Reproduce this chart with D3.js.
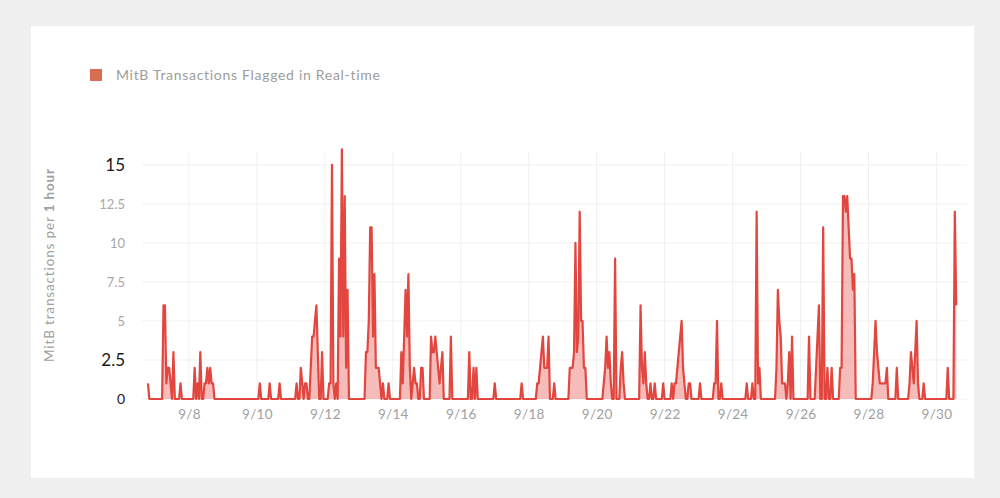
<!DOCTYPE html>
<html><head><meta charset="utf-8">
<script src="https://cdn.jsdelivr.net/npm/d3@7"></script>
<style>
body{margin:0;background:#f0f0f0;}
svg{display:block;font-family:Lato,"Open Sans",sans-serif;}
</style>
</head><body>
<svg id="chart" width="1000" height="498"></svg>
<script>
// ---------- data ----------
const seriesName = "MitB Transactions Flagged in Real-time";
const yTitleParts = ["MitB transactions per ", "1 hour"];
const startTime = "2017-09-06 19:00";   // first hourly sample
const hourCount = 572;                   // hourly samples shown
// hours (offset from startTime) that have non-zero counts, and their counts
const flaggedHours = [
  0,11,12,13,14,15,16,18,23,
  33,35,37,40,41,42,43,44,45,46,
  79,86,93,
  105,108,109,111,112,115,116,117,118,119,120,123,
  128,129,130,131,133,135,136,137,138,139,140,141,
  154,155,156,157,158,159,160,161,162,163,164,166,170,
  179,180,181,182,183,184,185,187,188,189,190,193,194,
  200,201,202,203,204,205,206,207,208,214,
  227,230,232,
  245,264,
  275,276,277,278,279,280,281,282,283,287,
  298,299,300,301,302,303,304,305,306,307,308,309,
  322,323,324,325,326,327,330,334,335,336,
  348,349,350,351,352,355,358,364,370,372,373,374,375,376,377,378,379,382,383,390,
  400,401,402,405,
  423,427,430,431,432,
  444,445,446,447,448,449,450,452,453,455,
  467,472,473,474,477,480,483,
  489,490,491,492,493,494,495,496,497,498,499,
  512,513,514,515,516,517,518,519,520,521,522,529,
  538,539,540,541,542,543,544,548,
  565,570,571
];
const flaggedValues = [
  1,6,6,1,2,2,1,3,1,
  2,1,3,1,1,2,1,2,1,1,
  1,1,1,
  1,2,1,1,1,2,4,4,5,6,3,3,
  1,1,15,1,1,9,4,16,4,13,2,7,
  3,3,5,11,11,4,8,2,2,2,1,1,1,
  3,1,4,7,4,8,2,1,2,1,1,2,2,
  4,3,3,4,3,2,1,2,3,4,
  3,2,2,
  1,1,
  1,1,2,3,4,2,2,2,4,1,
  2,2,2,3,10,3,4,12,5,5,2,2,
  1,2,4,2,3,1,9,2,3,1,
  6,2,1,3,1,1,1,1,1,1,1,2,3,4,5,2,1,1,1,1,
  1,1,5,1,
  1,1,12,1,2,
  2,7,5,4,1,1,1,1,3,4,
  4,2,4,6,11,2,2,
  2,2,13,13,12,13,11,9,9,7,8,
  1,3,5,3,2,1,1,1,1,1,2,2,
  1,3,2,1,3,5,1,1,
  2,12,6
];
const yTicks = [0, 2.5, 5, 7.5, 10, 12.5, 15];
const yTickLabels = ["0", "2.5", "5", "7.5", "10", "12.5", "15"];
const yEmphasized = ["15", "2.5"];
const xTickDates = ["2017-09-08","2017-09-10","2017-09-12","2017-09-14","2017-09-16","2017-09-18",
                    "2017-09-20","2017-09-22","2017-09-24","2017-09-26","2017-09-28","2017-09-30"];
const xTickLabels = ["9/8","9/10","9/12","9/14","9/16","9/18","9/20","9/22","9/24","9/26","9/28","9/30"];

// ---------- build series ----------
const parseTime = d3.timeParse("%Y-%m-%d %H:%M");
const parseDay = d3.timeParse("%Y-%m-%d");
const t0 = parseTime(startTime);
const valueByHour = new Map(flaggedHours.map((h, i) => [h, flaggedValues[i]]));
const series = d3.range(hourCount).map(h => ({
  date: d3.timeHour.offset(t0, h),
  value: valueByHour.has(h) ? valueByHour.get(h) : 0
}));
const xDates = xTickDates.map(parseDay);

// ---------- layout ----------
const svg = d3.select("#chart");
const plot = {left: 142, right: 967, top: 149.3, bottom: 399};

svg.append("rect").attr("x", 0).attr("y", 0).attr("width", 1000).attr("height", 498).attr("fill", "#f0f0f0");
svg.append("rect").attr("x", 31).attr("y", 26).attr("width", 943).attr("height", 452).attr("fill", "#ffffff");

const x = d3.scaleTime()
  .domain([new Date(+t0 - 4.2 * 3600e3), new Date(+t0 + 578.6 * 3600e3)])
  .range([plot.left, plot.right]);
const y = d3.scaleLinear().domain([0, 16]).range([plot.bottom, plot.top]);

// grid
svg.append("g").selectAll("line.h").data(yTicks).join("line")
  .attr("x1", plot.left).attr("x2", plot.right)
  .attr("y1", d => y(d)).attr("y2", d => y(d))
  .attr("stroke", "#f0f0f0").attr("stroke-width", 1);
svg.append("g").selectAll("line.v").data(xDates).join("line")
  .attr("x1", d => x(d)).attr("x2", d => x(d))
  .attr("y1", plot.top + 2).attr("y2", plot.bottom)
  .attr("stroke", "#f0f0f0").attr("stroke-width", 1);

// y axis
const yAxis = svg.append("g").attr("transform", `translate(${plot.left},0)`)
  .call(d3.axisLeft(y).tickValues(yTicks).tickSize(0).tickPadding(17)
    .tickFormat((d, i) => yTickLabels[i]));
yAxis.select(".domain").remove();
yAxis.selectAll("text")
  .attr("font-family", "Lato, 'Open Sans', sans-serif")
  .attr("font-size", d => yEmphasized.includes(yTickLabels[yTicks.indexOf(d)]) ? 17 : (d === 0 ? 14 : 13))
  .attr("fill", d => yEmphasized.includes(yTickLabels[yTicks.indexOf(d)]) ? "#1a1a1a" : (d === 0 ? "#222" : "#a8a8a8"));

// x axis
const xAxis = svg.append("g").attr("transform", `translate(0,${plot.bottom})`)
  .call(d3.axisBottom(x).tickValues(xDates).tickSize(0).tickPadding(10)
    .tickFormat((d, i) => xTickLabels[i]));
xAxis.select(".domain").remove();
xAxis.selectAll("text")
  .attr("font-family", "Lato, 'Open Sans', sans-serif")
  .attr("font-size", 13.5).attr("fill", "#a0a0a0").attr("letter-spacing", 0.3);

// area + line
const area = d3.area().x(d => x(d.date)).y0(y(0)).y1(d => y(d.value));
const line = d3.line().x(d => x(d.date)).y(d => y(d.value));
svg.append("path").datum(series).attr("d", area)
  .attr("fill", "#ea6a64").attr("fill-opacity", 0.45);
svg.append("path").datum(series).attr("d", line)
  .attr("fill", "none").attr("stroke", "#e2463f").attr("stroke-width", 2.2)
  .attr("stroke-linejoin", "round");

// y title
const yt = svg.append("text")
  .attr("transform", "translate(54,265) rotate(-90)")
  .attr("text-anchor", "middle")
  .attr("font-size", 13.5).attr("fill", "#a0a0a0").attr("letter-spacing", 0.85);
yt.append("tspan").text(yTitleParts[0]);
yt.append("tspan").attr("font-weight", "bold").text(yTitleParts[1]);

// legend
svg.append("rect").attr("x", 90).attr("y", 69).attr("width", 12).attr("height", 12).attr("fill", "#d86e50");
svg.append("text").attr("x", 116).attr("y", 79.5)
  .attr("font-size", 14).attr("fill", "#9d9d9d").attr("letter-spacing", 0.7).text(seriesName);
</script>
</body></html>
